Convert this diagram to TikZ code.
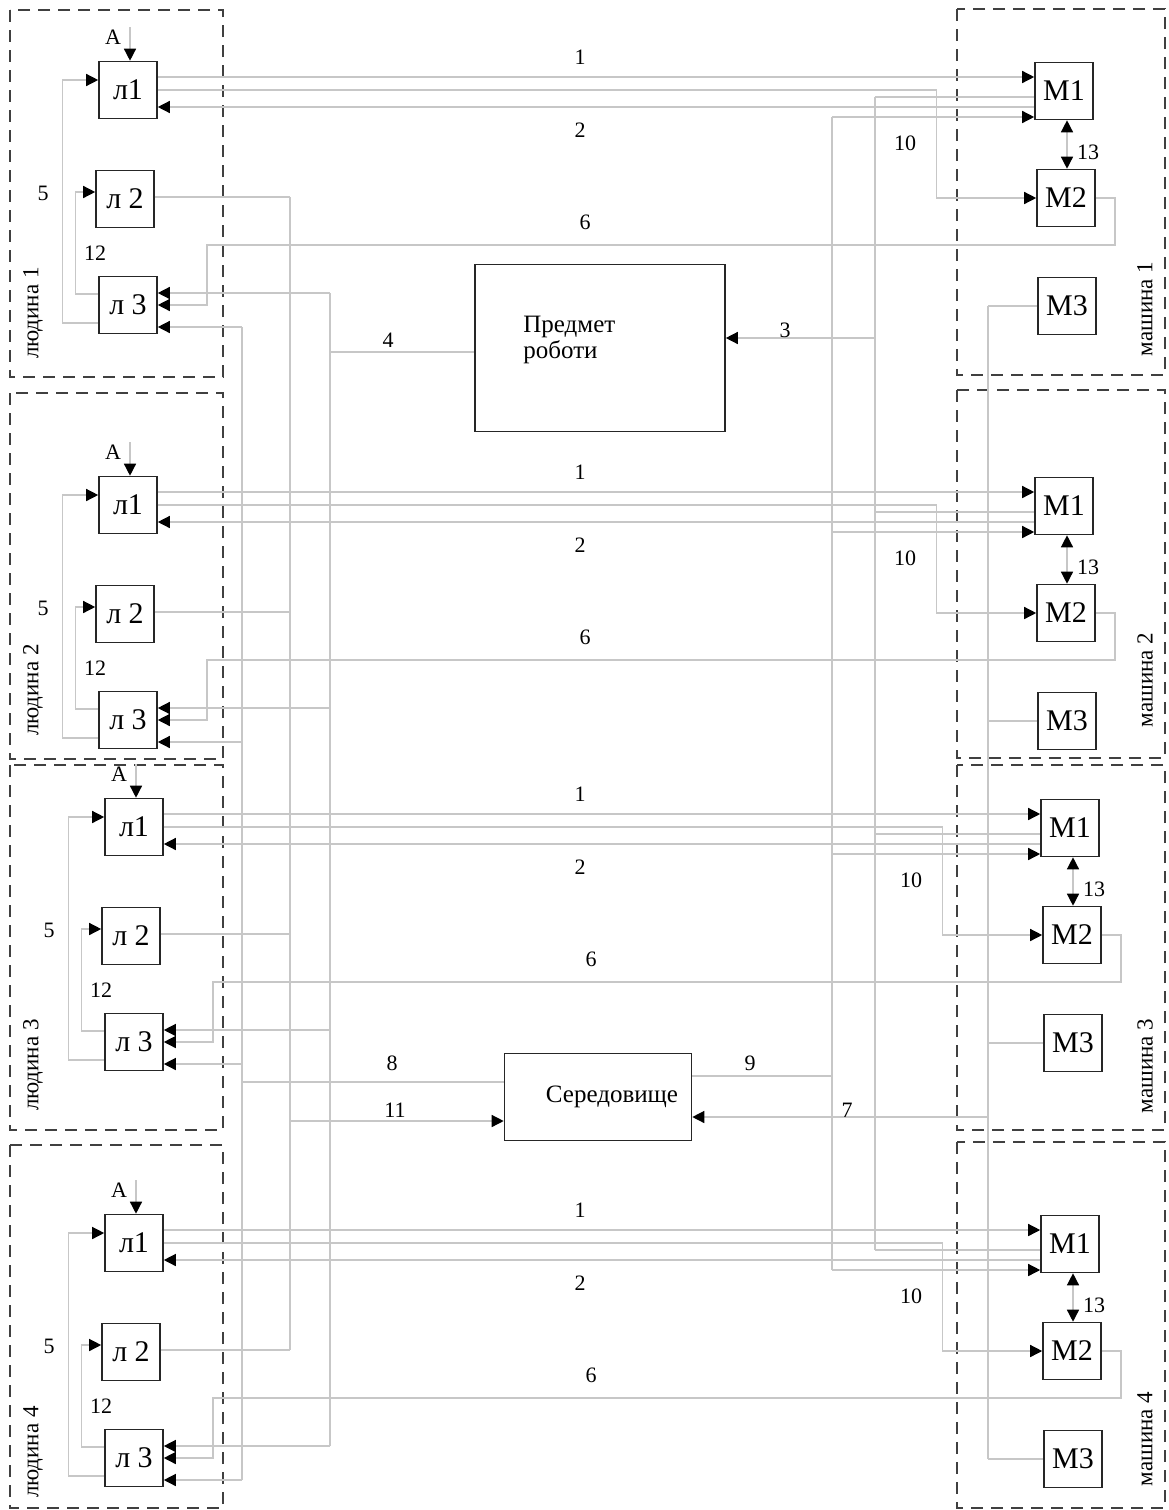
\documentclass[tikz,border=0pt]{standalone}
\usepackage{fontspec}
\setmainfont{Liberation Serif}
\usetikzlibrary{positioning, arrows.meta}

\begin{document}
\begin{tikzpicture}[x=1pt, y=-1pt, font=\fontsize{22}{25}\selectfont,
  >={Triangle[length=12pt, width=12pt, color=black]},
  blk/.style={draw=black!85, line width=1.6pt, minimum width=58pt, minimum height=57pt,
              inner sep=0pt, font=\fontsize{30}{34}\selectfont},
  conn/.style={draw=black!22, line width=1.4pt},
  grp/.style={draw=black!75, line width=2.4pt, dash pattern=on 12pt off 8pt},
  num/.style={inner sep=0pt},
  grplab/.style={rotate=90, inner sep=0pt, font=\fontsize{23}{26}\selectfont}]
  \useasboundingbox (0,0) rectangle (1168,1510);

  \coordinate (busE) at (242,0);
  \coordinate (busL) at (290,0);
  \coordinate (busO) at (330,0);
  \coordinate (busS) at (832,0);
  \coordinate (busM) at (875,0);
  \coordinate (busT) at (988,0);

  \foreach \i/\off/\sh/\ptop/\pbot/\mtop/\mbot/\plab/\mlab in
      {1/0/0/10/377/9/375/313/309, 2/415/0/393/759/390/758/690/680,
       3/737/6/765/1130/765/1130/1065/1066, 4/1153/6/1145/1508/1142/1508/1452/1439} {
    \draw[grp] (10,\ptop) rectangle (223,\pbot);
    \draw[grp] (957,\mtop) rectangle (1165,\mbot);
    \node[grplab] (hum\i) at (33,\plab) {людина \i};
    \node[grplab] (mach\i) at (1145,\mlab) {машина \i};

    \node[blk] (l1-\i) at (128+\sh, 90+\off) {л1};
    \node[blk] (l2-\i) at (125+\sh, 199+\off) {л 2};
    \node[blk] (l3-\i) at (128+\sh, 305+\off) {л 3};
    \node[blk] (m1-\i) at (1064+\sh, 91+\off) {М1};
    \node[blk] (m2-\i) at (1066+\sh, 198+\off) {М2};
    \node[blk] (m3-\i) at (1067+\sh, 306+\off) {М3};

    \coordinate (a-\i) at (130+\sh, 27+\off);
    \node[num] (alab-\i) at (113+\sh, 37+\off) {A};
    \draw[conn, ->] (a-\i) -- (a-\i |- l1-\i.north);

    \draw[conn, ->] ([yshift=-18pt]l3-\i.west) -- ++(-36,0) |- ([yshift=10pt]l1-\i.west);
    \draw[conn, ->] ([yshift=11pt]l3-\i.west) -- ++(-23,0) |- ([yshift=7pt]l2-\i.west);

    \draw[conn, ->] ([yshift=13pt]l1-\i.east) -- ([yshift=13pt]l1-\i.east -| m1-\i.west);
    \draw[conn, ->] (l1-\i.east) -| ([xshift=-100pt]m2-\i.west) -- (m2-\i.west);
    \draw[conn, ->] ([yshift=-16pt]m1-\i.west) -- ([yshift=-16pt]m1-\i.west -| l1-\i.east);
    \draw[conn] ([yshift=-6pt]m1-\i.west) -- ([yshift=-6pt]m1-\i.west -| busM);
    \draw[conn, ->] ([yshift=-26pt]m1-\i.west -| busS) -- ([yshift=-26pt]m1-\i.west);
    \draw[conn, <->] ([xshift=3pt]m1-\i.south) -- ([xshift=3pt]m1-\i.south |- m2-\i.north);

    \draw[conn, ->] (m2-\i.east) -- ++(19,0) |- ([xshift=49pt, yshift=60pt]l3-\i.east) |- (l3-\i.east);
    \draw[conn, ->] ([yshift=12pt]l3-\i.east -| busO) -- ([yshift=12pt]l3-\i.east);
    \draw[conn, ->] ([yshift=-22pt]l3-\i.east -| busE) -- ([yshift=-22pt]l3-\i.east);
    \draw[conn] ([yshift=2pt]l2-\i.east) -- ([yshift=2pt]l2-\i.east -| busL);
    \draw[conn] (m3-\i.west) -- (m3-\i.west -| busT);

    \node[num] (n1-\i) at (580, 57+\off) {1};
    \node[num] (n2-\i) at (580, 130+\off) {2};
    \node[num] (n10-\i) at (905+\sh, 143+\off) {10};
    \node[num] (n13-\i) at (1088+\sh, 152+\off) {13};
    \node[num] (n6-\i) at (585+\sh, 222+\off) {6};
    \node[num] (n5-\i) at (43+\sh, 193+\off) {5};
    \node[num] (n12-\i) at (95+\sh, 253+\off) {12};
  }

  \draw[conn] ([yshift=-22pt]l3-1.east -| busE) -- ([yshift=-22pt]l3-4.east -| busE);
  \draw[conn] ([yshift=2pt]l2-1.east -| busL) -- ([yshift=2pt]l2-4.east -| busL);
  \draw[conn] ([yshift=12pt]l3-1.east -| busO) -- ([yshift=12pt]l3-4.east -| busO);
  \draw[conn] ([yshift=-26pt]m1-1.west -| busS) -- ([yshift=-26pt]m1-4.west -| busS);
  \draw[conn] ([yshift=-6pt]m1-1.west -| busM) -- ([yshift=-6pt]m1-4.west -| busM);
  \draw[conn] (m3-1.west -| busT) -- (m3-4.west -| busT);

  \node[blk, minimum width=250pt, minimum height=167pt] (obj) at (600,348) {};
  \node[align=left, anchor=west, inner sep=0pt, font=\fontsize{25}{26}\selectfont] (objtxt)
    at ([xshift=49pt, yshift=8pt]obj.west) {Предмет\\роботи};
  \draw[conn] ([yshift=-4pt]obj.west) -- ([yshift=-4pt]obj.west -| busO);
  \draw[conn, ->] ([yshift=10pt]obj.east -| busM) -- ([yshift=10pt]obj.east);
  \node[num] (n4) at (388,340) {4};
  \node[num] (n3) at (785,330) {3};

  \node[blk, minimum width=187pt, minimum height=87pt, font=\fontsize{25}{28}\selectfont] (env)
    at (598,1097) {\hspace{28pt}Середовище};
  \draw[conn] ([yshift=15pt]env.west -| busE) -- ([yshift=15pt]env.west);
  \draw[conn, ->] ([yshift=-24pt]env.west -| busL) -- ([yshift=-24pt]env.west);
  \draw[conn] ([yshift=21pt]env.east) -- ([yshift=21pt]env.east -| busS);
  \draw[conn, ->] ([yshift=-20pt]env.east -| busT) -- ([yshift=-20pt]env.east);
  \node[num] (n8) at (392,1063) {8};
  \node[num] (n11) at (395,1110) {11};
  \node[num] (n9) at (750,1063) {9};
  \node[num] (n7) at (847,1110) {7};
\end{tikzpicture}
\end{document}
